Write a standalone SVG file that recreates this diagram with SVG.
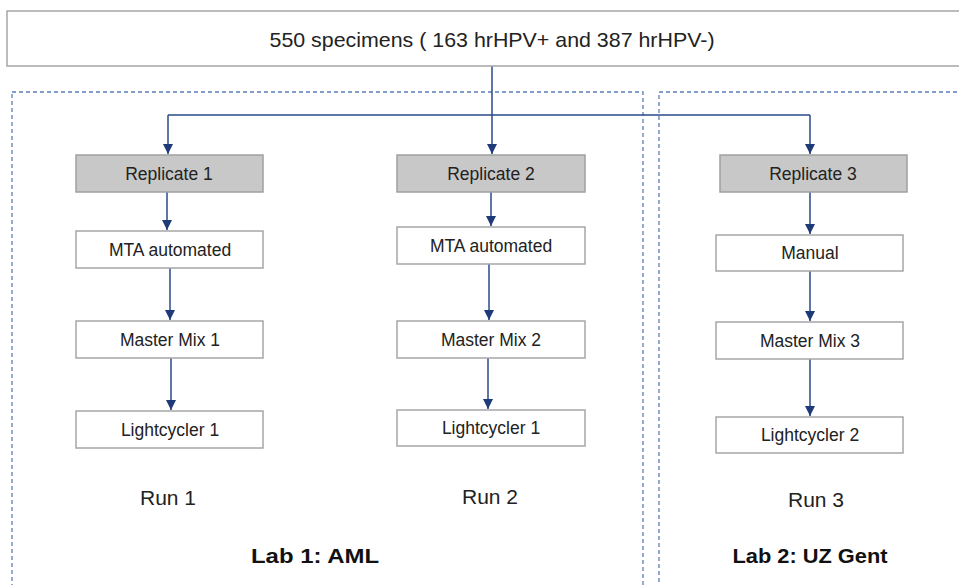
<svg xmlns="http://www.w3.org/2000/svg" width="959" height="585" viewBox="0 0 959 585">
<style>
.node{fill:#ffffff;stroke:#a6a6a6;stroke-width:1.5}
.rep{fill:#c8c8c8;stroke:#a0a0a0;stroke-width:1.5}
.t{font-family:"Liberation Sans",Arial,sans-serif;font-size:17.5px;fill:#222;text-anchor:middle}
.run{font-family:"Liberation Sans",Arial,sans-serif;font-size:21px;fill:#222;text-anchor:middle}
.lab{font-family:"Liberation Sans",Arial,sans-serif;font-size:21px;font-weight:bold;fill:#111;text-anchor:middle}
.dash{fill:none;stroke:#5b7dbf;stroke-width:1.3;stroke-dasharray:4,3}
.c{fill:none;stroke:#2a4a8a;stroke-width:1.5}
</style>
<defs>
<marker id="ah" viewBox="0 0 10 10" refX="10" refY="5" markerWidth="10" markerHeight="10" markerUnits="userSpaceOnUse" orient="auto">
<path d="M0,0 L10,5 L0,10 z" fill="#1f3a78"/>
</marker>
</defs>
<rect width="959" height="585" fill="#ffffff"/>
<g id="lab1">
<rect class="dash" x="12" y="92" width="631" height="520"/>
<text class="lab" x="315" y="563" textLength="128" lengthAdjust="spacingAndGlyphs">Lab 1: AML</text>
</g>
<g id="lab2">
<rect class="dash" x="659" y="92" width="320" height="520"/>
<text class="lab" x="810" y="563" textLength="155" lengthAdjust="spacingAndGlyphs">Lab 2: UZ Gent</text>
</g>
<g id="connectors">
<path class="c" d="M492,66 V154" marker-end="url(#ah)"/>
<path class="c" d="M168,115 H810"/>
<path class="c" d="M168,115 V154" marker-end="url(#ah)"/>
<path class="c" d="M810,115 V154" marker-end="url(#ah)"/>
<path class="c" d="M167,192 V230" marker-end="url(#ah)"/>
<path class="c" d="M170,268 V320" marker-end="url(#ah)"/>
<path class="c" d="M171,358 V410" marker-end="url(#ah)"/>
<path class="c" d="M491,192 V226" marker-end="url(#ah)"/>
<path class="c" d="M489,264 V320" marker-end="url(#ah)"/>
<path class="c" d="M488,358 V409" marker-end="url(#ah)"/>
<path class="c" d="M810,192 V234" marker-end="url(#ah)"/>
<path class="c" d="M810,271 V321" marker-end="url(#ah)"/>
<path class="c" d="M810,359 V416" marker-end="url(#ah)"/>
</g>
<g id="top">
<rect class="node" x="7" y="11" width="970" height="55"/>
<text class="run" x="492" y="47" textLength="445" lengthAdjust="spacingAndGlyphs">550 specimens ( 163 hrHPV+ and 387 hrHPV-)</text>
</g>
<g id="rep1"><rect class="rep" x="76" y="155" width="187" height="37"/><text class="t" x="169" y="180">Replicate 1</text></g>
<g id="rep2"><rect class="rep" x="397" y="155" width="188" height="37"/><text class="t" x="491" y="180">Replicate 2</text></g>
<g id="rep3"><rect class="rep" x="720" y="155" width="187" height="37"/><text class="t" x="813" y="180">Replicate 3</text></g>
<g id="mta1"><rect class="node" x="76" y="231" width="187" height="37"/><text class="t" x="170" y="256">MTA automated</text></g>
<g id="mta2"><rect class="node" x="397" y="227" width="188" height="37"/><text class="t" x="491" y="252">MTA automated</text></g>
<g id="manual"><rect class="node" x="716" y="235" width="187" height="36"/><text class="t" x="810" y="259">Manual</text></g>
<g id="mm1"><rect class="node" x="76" y="321" width="187" height="37"/><text class="t" x="170" y="346">Master Mix 1</text></g>
<g id="mm2"><rect class="node" x="397" y="321" width="188" height="37"/><text class="t" x="491" y="346">Master Mix 2</text></g>
<g id="mm3"><rect class="node" x="716" y="322" width="187" height="37"/><text class="t" x="810" y="347">Master Mix 3</text></g>
<g id="lc1"><rect class="node" x="76" y="411" width="187" height="37"/><text class="t" x="170" y="436">Lightcycler 1</text></g>
<g id="lc1b"><rect class="node" x="397" y="410" width="188" height="36"/><text class="t" x="491" y="434">Lightcycler 1</text></g>
<g id="lc2"><rect class="node" x="716" y="417" width="187" height="36"/><text class="t" x="810" y="441">Lightcycler 2</text></g>
<g id="runs">
<text class="run" x="168" y="505">Run 1</text>
<text class="run" x="490" y="504">Run 2</text>
<text class="run" x="816" y="507">Run 3</text>
</g>
</svg>
